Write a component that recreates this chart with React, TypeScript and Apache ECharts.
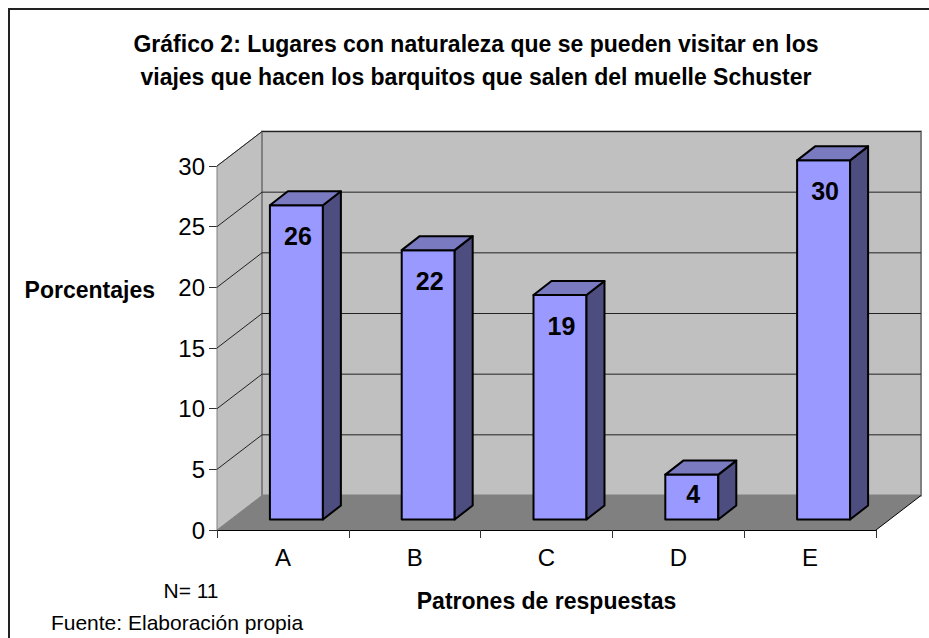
import React, { useEffect, useRef } from "react";
import * as echarts from "echarts";

const categories = ["A", "B", "C", "D", "E"];
const values = [25.9, 22.2, 18.5, 3.7, 29.6];
const valueLabels = ["26", "22", "19", "4", "30"];
const yTicks = [5, 10, 15, 20, 25, 30];
const chartTitle = "Gráfico 2: Lugares con naturaleza que se pueden visitar en los\nviajes que hacen los barquitos que salen del muelle Schuster";
const yName = "Porcentajes";
const xName = "Patrones de respuestas";
const noteN = "N= 11";
const noteSource = "Fuente: Elaboración propia";

const FONT = "'Liberation Sans', Arial, sans-serif";
const DX = 45;
const DY = 34.5;

export default function App() {
  const ref = useRef<HTMLDivElement>(null);
  useEffect(() => {
    const chart = echarts.init(ref.current!, undefined, { renderer: "svg" });
    chart.setOption({
      animation: false,
      backgroundColor: "#ffffff",
      textStyle: { fontFamily: FONT },
      title: {
        text: chartTitle,
        left: 471,
        top: 22,
        textAlign: "center",
        textStyle: { fontFamily: FONT, fontSize: 23, fontWeight: "bold", color: "#000", lineHeight: 33 },
      },
      grid: { left: 217, right: 53, top: 166, bottom: 108 },
      xAxis: {
        type: "category",
        data: categories,
        name: xName,
        nameLocation: "middle",
        nameGap: 59,
        nameTextStyle: { fontFamily: FONT, fontSize: 23, fontWeight: "bold", color: "#000" },
        axisLine: { show: true, lineStyle: { color: "#000", width: 1 } },
        axisTick: { show: true, length: 8, lineStyle: { color: "#333" } },
        axisLabel: { fontFamily: FONT, fontSize: 24, color: "#000", margin: 15 },
        splitLine: { show: false },
      },
      yAxis: {
        type: "value",
        min: 0,
        max: 30,
        interval: 5,
        axisLine: { show: true, lineStyle: { color: "#000", width: 1 } },
        axisTick: { show: true, length: 8, lineStyle: { color: "#333" } },
        axisLabel: { fontFamily: FONT, fontSize: 24, color: "#000", margin: 12 },
        splitLine: { show: false },
      },
      series: [
        {
          type: "custom",
          name: "walls",
          silent: true,
          z: 1,
          data: [[0, 0]],
          renderItem: (params: any, api: any) => {
            const c = params.coordSys;
            const x0 = c.x, x1 = c.x + c.width;
            const yB = c.y + c.height, yT = api.coord([0, 30])[1];
            return {
              type: "group",
              children: [
                { type: "polygon", shape: { points: [[x0, yB], [x0 + DX, yB - DY], [x0 + DX, yT - DY], [x0, yT]] }, style: { fill: "#c0c0c0", stroke: "#808080", lineWidth: 1 } },
                { type: "polygon", shape: { points: [[x0 + DX, yB - DY], [x1 + DX, yB - DY], [x1 + DX, yT - DY], [x0 + DX, yT - DY]] }, style: { fill: "#c0c0c0", stroke: "#808080", lineWidth: 2 } },
                { type: "polygon", shape: { points: [[x0, yB], [x1, yB], [x1 + DX, yB - DY], [x0 + DX, yB - DY]] }, style: { fill: "#808080", stroke: "none" } },
                { type: "line", shape: { x1, y1: yB, x2: x1 + DX, y2: yB - DY }, style: { stroke: "#000", lineWidth: 1 } },
              ],
            };
          },
        },
        {
          type: "custom",
          name: "gridlines",
          silent: true,
          z: 2,
          data: yTicks.map((v) => [0, v]),
          renderItem: (params: any, api: any) => {
            const c = params.coordSys;
            const y = api.coord([0, api.value(1)])[1];
            return {
              type: "polyline",
              shape: { points: [[c.x, y], [c.x + DX, y - DY], [c.x + c.width + DX, y - DY]] },
              style: { fill: "none", stroke: "#222", lineWidth: 1 },
            };
          },
        },
        {
          type: "custom",
          name: "Porcentajes",
          silent: true,
          z: 3,
          data: values.map((v, i) => [i, v, valueLabels[i]]),
          renderItem: (params: any, api: any) => {
            const i = api.value(0);
            const band = api.size([1, 0])[0];
            const [cx, y0] = api.coord([i, 0]);
            const top0 = api.coord([i, api.value(1)])[1];
            const w = band * 0.402;
            const dx = 18, dy = 14;
            const sx = 13.5, sy = 10.5;
            const l = cx + sx - w / 2, r = l + w;
            const b = y0 - sy, t = top0 - sy;
            const line = { stroke: "#000", lineWidth: 2, lineJoin: "round" };
            return {
              type: "group",
              children: [
                { type: "polygon", shape: { points: [[l, b], [r, b], [r, t], [l, t]] }, style: { fill: "#9999ff", ...line } },
                { type: "polygon", shape: { points: [[r, b], [r + dx, b - dy], [r + dx, t - dy], [r, t]] }, style: { fill: "#4d4d80", ...line } },
                { type: "polygon", shape: { points: [[l, t], [r, t], [r + dx, t - dy], [l + dx, t - dy]] }, style: { fill: "#7a7ac0", ...line } },
                {
                  type: "text",
                  x: (l + r) / 2 + 1.5,
                  y: Math.min(t + 30.5, (t + b) / 2 - 3),
                  style: {
                    text: String(api.value(2)),
                    fill: "#000",
                    font: `bold 25px ${FONT}`,
                    textAlign: "center",
                    textVerticalAlign: "middle",
                  },
                },
              ],
            };
          },
        },
      ],
      graphic: [
        { type: "polyline", shape: { points: [[9, 638], [9, 9], [929, 9]] }, style: { fill: "none", stroke: "#222", lineWidth: 2 }, silent: true },
        { type: "text", x: 155, y: 290, style: { text: yName, fill: "#000", font: `bold 23px ${FONT}`, textAlign: "right", textVerticalAlign: "middle" } },
        { type: "text", x: 191, y: 590, style: { text: noteN, fill: "#000", font: `21px ${FONT}`, textAlign: "center", textVerticalAlign: "middle" } },
        { type: "text", x: 177, y: 622, style: { text: noteSource, fill: "#000", font: `21px ${FONT}`, textAlign: "center", textVerticalAlign: "middle" } },
      ],
    });
    return () => chart.dispose();
  }, []);
  return <div ref={ref} style={{ position: "fixed", left: 0, top: 0, width: 929, height: 638 }} />;
}
